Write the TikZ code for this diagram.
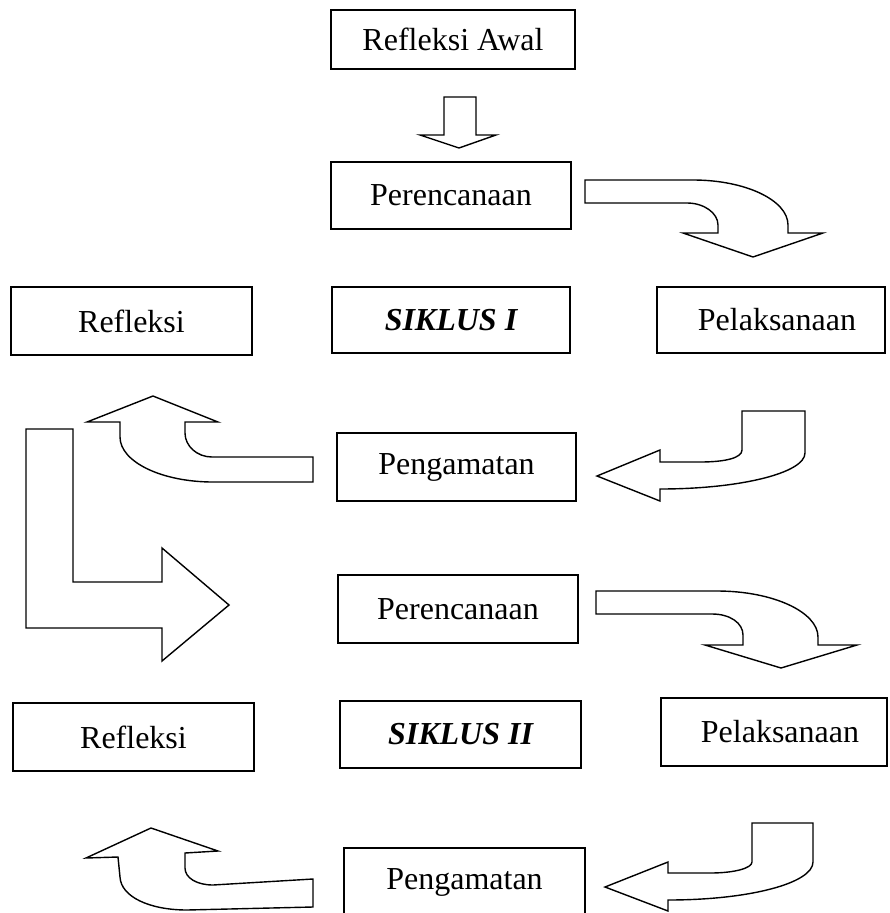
\documentclass[tikz,border=0pt]{standalone}
\usepackage{fontspec}
\setmainfont{Liberation Serif}
\begin{document}
\begin{tikzpicture}[x=1pt,y=-1pt,
  box/.style={draw, rectangle, line width=1.7pt, inner sep=0pt,
    font=\fontsize{32}{38}\selectfont},
  bold/.style={font=\fontsize{32}{38}\selectfont\bfseries\itshape},
  blockarrow/.style={draw, line width=1.4pt, line join=miter, fill=white}]
\useasboundingbox (0,0) rectangle (889,913);

% boxes
\node[box, minimum width=244pt, minimum height=59pt] (awal) at (453,39.5) {Refleksi Awal};
\node[box, minimum width=240pt, minimum height=67pt] (per1) at (451,195.5) {Perencanaan};
\node[box, minimum width=241pt, minimum height=68pt] (ref1) at (131.5,321) {Refleksi};
\node[box, bold, minimum width=238pt, minimum height=66pt] (sik1) at (451,320) {SIKLUS I};
\node[box, minimum width=228pt, minimum height=66pt] (pel1) at (771,320) {\hspace*{12pt}Pelaksanaan};
\node[box, minimum width=239pt, minimum height=68pt] (peng1) at (456.5,467) {Pengamatan};
\node[box, minimum width=240pt, minimum height=68pt] (per2) at (458,609) {Perencanaan};
\node[box, minimum width=241pt, minimum height=68pt] (ref2) at (133.5,737) {Refleksi};
\node[box, bold, minimum width=241pt, minimum height=67pt] (sik2) at (460.5,734.5) {SIKLUS II};
\node[box, minimum width=226pt, minimum height=68pt] (pel2) at (774,732) {\hspace*{12pt}Pelaksanaan};
\node[box, minimum width=241pt, minimum height=68pt] (peng2) at (464.5,882) {Pengamatan};

% down arrow
\draw[blockarrow] (444,97) -- (476,97) -- (476,135) -- (496,135) -- (459,148)
  -- (420,135) -- (444,135) -- cycle;

% curved arrow right-down 1
\draw[blockarrow] (585,180) -- (693,180) .. controls (745,180) and (788,200) .. (788,225)
  -- (788,233) -- (823,233) -- (753,257) -- (683,233) -- (718,233) -- (718,225)
  .. controls (718,213) and (704,203) .. (687,203) -- (585,203) -- cycle;

% curved arrow up-left 1
\draw[blockarrow] (313,457) -- (212,457) .. controls (197,457) and (185,446) .. (185,433)
  -- (185,422) -- (218,422) -- (153,396) -- (87,422) -- (120,422) -- (120,437)
  .. controls (120,462) and (162,482) .. (213,482) -- (313,482) -- cycle;

% curved arrow down-left 1
\draw[blockarrow] (742,411) -- (805,411) -- (805,453)
  .. controls (805,473) and (740,489) .. (660,489) -- (660,501) -- (597,476)
  -- (660,450) -- (660,462) -- (700,462) .. controls (725,462) and (742,458) .. (742,450) -- cycle;

% L arrow
\draw[blockarrow] (26,429) -- (73,429) -- (73,582) -- (162,582) -- (162,548) -- (229,605)
  -- (162,661) -- (162,628) -- (26,628) -- cycle;

% curved arrow right-down 2
\draw[blockarrow] (596,591) -- (717,591) .. controls (773,591) and (818,612) .. (818,637)
  -- (818,645) -- (857,645) -- (781,668) -- (705,645) -- (743,645) -- (743,635)
  .. controls (743,623) and (730,614) .. (712,614) -- (596,614) -- cycle;

% curved arrow down-left 2
\draw[blockarrow] (752,823) -- (813,823) -- (813,862)
  .. controls (813,883) and (750,900) .. (668,900) -- (668,911) -- (605,887)
  -- (668,862) -- (668,873) -- (710,873) .. controls (735,873) and (752,868) .. (752,862) -- cycle;

% curved arrow up-left 2
\draw[blockarrow] (313,879) -- (213,885) .. controls (197,885) and (185,878) .. (185,868)
  -- (185,853) -- (218,851) -- (151,828) -- (86,858) -- (118,857) -- (120,877)
  .. controls (121,897) and (150,910) .. (187,910) -- (313,907) -- cycle;
\end{tikzpicture}
\end{document}
